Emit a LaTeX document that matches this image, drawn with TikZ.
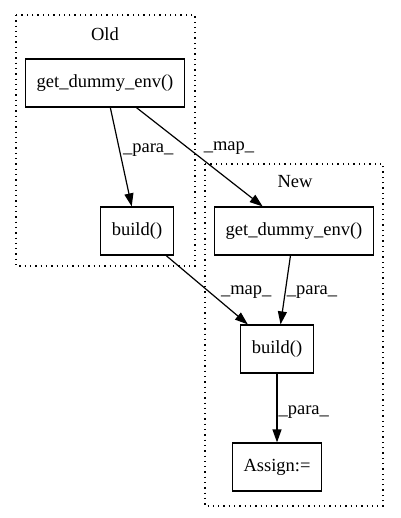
\documentclass[tikz,border=0pt]{standalone}
\usepackage{fontspec}
\setmainfont{Liberation Serif}
\usetikzlibrary{arrows.meta,positioning}
\tikzset{
  >={Triangle[length=13pt,width=9pt]},
  gbox/.style={draw=black, line width=1.2pt, fill=white, inner xsep=11pt,
               minimum height=48pt, font=\fontsize{18.5}{22}\selectfont},
  gclust/.style={draw=black, line width=1.3pt, dash pattern=on 1.3pt off 4pt},
  gtitle/.style={font=\fontsize{18.5}{22}\selectfont},
  gedge/.style={->, line width=1.2pt},
  glbl/.style={font=\fontsize{18.5}{22}\selectfont, anchor=west, inner sep=1pt},
}
\begin{document}
\begin{tikzpicture}[x=1pt,y=-1pt]
  \useasboundingbox (0,0) rectangle (400,518);

  % --- Old ---
  \draw[gclust] (16,15) rectangle (195,266);
  \node[gtitle] (oldt) at (105,34) {Old};
  \node[gbox] (oget) at (105,83) {get\_dummy\_env()};
  \node[gbox] (obuild) at (137,231) {build()};

  % --- New ---
  \draw[gclust] (205,164) rectangle (383,506);
  \node[gtitle] (newt) at (295,182) {New};
  \node[gbox] (nget) at (294,231) {get\_dummy\_env()};
  \node[gbox] (nbuild) at (277,349) {build()};
  \node[gbox] (nassign) at (277,467) {Assign:=};

  % edges
  \draw[gedge] (oget) -- node[glbl, pos=0.43, xshift=2pt] {\_para\_} (obuild);
  \draw[gedge] (oget) -- node[glbl, pos=0.41, xshift=14pt] {\_map\_} (nget);
  \draw[gedge] (obuild) -- node[glbl, pos=0.53, xshift=10pt] {\_map\_} (nbuild);
  \draw[gedge] (nget) -- node[glbl, pos=0.53] {\_para\_} (nbuild);
  \draw[gedge] (nbuild) -- node[glbl, pos=0.56] {\_para\_} (nassign);

\end{tikzpicture}
\end{document}
